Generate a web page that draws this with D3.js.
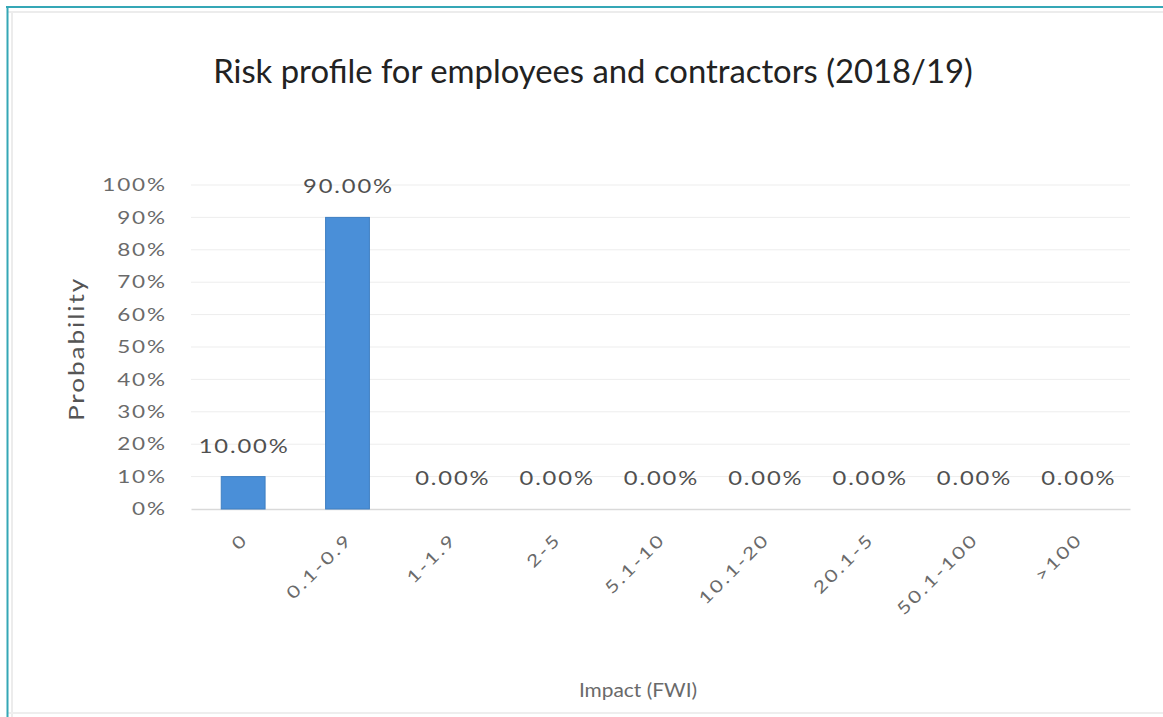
<!DOCTYPE html>
<html>
<head>
<meta charset="utf-8">
<script src="https://cdn.jsdelivr.net/npm/d3@7/dist/d3.min.js"></script>
<style>
  html, body { margin: 0; padding: 0; background: #ffffff; }
  svg { display: block; }
</style>
</head>
<body>
<svg id="chart" width="1163" height="717"></svg>
<script>
// Impact bands (FWI) and probability per band
const categories = ["0", "0.1-0.9", "1-1.9", "2-5", "5.1-10", "10.1-20", "20.1-5", "50.1-100", ">100"];
const probabilities = [0.10, 0.90, 0, 0, 0, 0, 0, 0, 0];
const yTicks = [0, 0.1, 0.2, 0.3, 0.4, 0.5, 0.6, 0.7, 0.8, 0.9, 1.0];

const titleText = "Risk profile for employees and contractors (2018/19)";
const yTitle = "Probability";
const xTitle = "Impact (FWI)";

const W = 1163, H = 717;
const svg = d3.select("#chart");
const font = "Lato, 'Open Sans', sans-serif";
const wide = 1.25; // horizontal stretch of the small chart text

// Frame
svg.append("rect").attr("x", 0).attr("y", 0).attr("width", W).attr("height", H).attr("fill", "#ffffff");
svg.append("line").attr("x1", 8).attr("x2", W).attr("y1", 12).attr("y2", 12)
  .attr("stroke", "#ececec").attr("stroke-width", 2);
svg.append("line").attr("x1", 12).attr("x2", 12).attr("y1", 12).attr("y2", H)
  .attr("stroke", "#ececec").attr("stroke-width", 2);
svg.append("line").attr("x1", 8).attr("x2", W).attr("y1", 713).attr("y2", 713)
  .attr("stroke", "#eeeeee").attr("stroke-width", 2);
svg.append("line").attr("x1", 6).attr("x2", W).attr("y1", 7).attr("y2", 7)
  .attr("stroke", "#35a7b6").attr("stroke-width", 2);
svg.append("line").attr("x1", 7.5).attr("x2", 7.5).attr("y1", 6).attr("y2", H)
  .attr("stroke", "#35a7b6").attr("stroke-width", 2);

// Plot area
const plot = { left: 191, right: 1130, top: 185, bottom: 509 };

const x = d3.scaleBand()
  .domain(categories)
  .range([plot.left, plot.right])
  .paddingInner(0.58)
  .paddingOuter(0.29);

const y = d3.scaleLinear()
  .domain([0, 1])
  .range([plot.bottom, plot.top]);

// Gridlines
svg.append("g")
  .selectAll("line")
  .data(yTicks.filter(d => d > 0))
  .join("line")
  .attr("x1", plot.left).attr("x2", plot.right)
  .attr("y1", d => y(d)).attr("y2", d => y(d))
  .attr("stroke", "#ededed").attr("stroke-width", 1);

// Y axis tick labels
const yAxis = d3.axisLeft(y)
  .tickValues(yTicks)
  .tickFormat(d3.format(".0%"))
  .tickSize(0)
  .tickPadding(0);
const gy = svg.append("g").attr("transform", `translate(${plot.left - 26},0)`).call(yAxis);
gy.select(".domain").remove();
gy.selectAll("text")
  .attr("font-family", font).attr("font-size", 18).attr("fill", "#6a6a6a")
  .attr("letter-spacing", 1.5)
  .attr("dx", 1.5)
  .attr("transform", `scale(${wide},1)`);

// X axis line and rotated labels
const xAxis = d3.axisBottom(x).tickSize(0).tickPadding(0);
const gx = svg.append("g").attr("transform", `translate(0,${plot.bottom})`).call(xAxis);
gx.select(".domain").attr("stroke", "#d9d9d9").attr("stroke-width", 1.5);
gx.selectAll(".tick text")
  .attr("font-family", font).attr("font-size", 17).attr("fill", "#6a6a6a")
  .attr("letter-spacing", 2)
  .attr("text-anchor", "end")
  .attr("dy", "0.35em")
  .attr("dx", 2)
  .attr("transform", `translate(0,29) rotate(-45) scale(${wide},1)`)
  .attr("x", 0).attr("y", 0);

// Bars
svg.append("g")
  .selectAll("rect")
  .data(probabilities)
  .join("rect")
  .attr("x", (d, i) => x(categories[i]))
  .attr("width", x.bandwidth())
  .attr("y", d => y(d))
  .attr("height", d => y(0) - y(d))
  .attr("fill", "#4a8fd8")
  .attr("stroke", "#3f7fc2")
  .attr("stroke-width", 1);

// Value labels
const pct = d3.format(".2%");
svg.append("g")
  .selectAll("text")
  .data(probabilities)
  .join("text")
  .attr("transform", (d, i) =>
    `translate(${x(categories[i]) + x.bandwidth() / 2 + 1},${y(d) - 24}) scale(${wide},1)`)
  .attr("text-anchor", "middle")
  .attr("font-family", font).attr("font-size", 19).attr("fill", "#505050")
  .attr("letter-spacing", 1.5)
  .text(d => pct(d));

// Title, fitted to its width
const title = svg.append("text")
  .attr("x", 593).attr("y", 83)
  .attr("text-anchor", "middle")
  .attr("font-family", font).attr("font-size", 100).attr("fill", "#222222")
  .text(titleText);
const tw = title.node().getComputedTextLength();
title.attr("font-size", 100 * 760 / tw);

// Axis titles
svg.append("text")
  .attr("transform", `translate(84,${349}) rotate(-90) scale(${wide},1)`)
  .attr("text-anchor", "middle")
  .attr("font-family", font).attr("font-size", 21).attr("fill", "#555555")
  .attr("letter-spacing", 1.5)
  .text(yTitle);

svg.append("text")
  .attr("transform", `translate(638,697) scale(1.1,1)`)
  .attr("text-anchor", "middle")
  .attr("font-family", font).attr("font-size", 19).attr("fill", "#6a6a6a")
  .text(xTitle);
</script>
</body>
</html>
